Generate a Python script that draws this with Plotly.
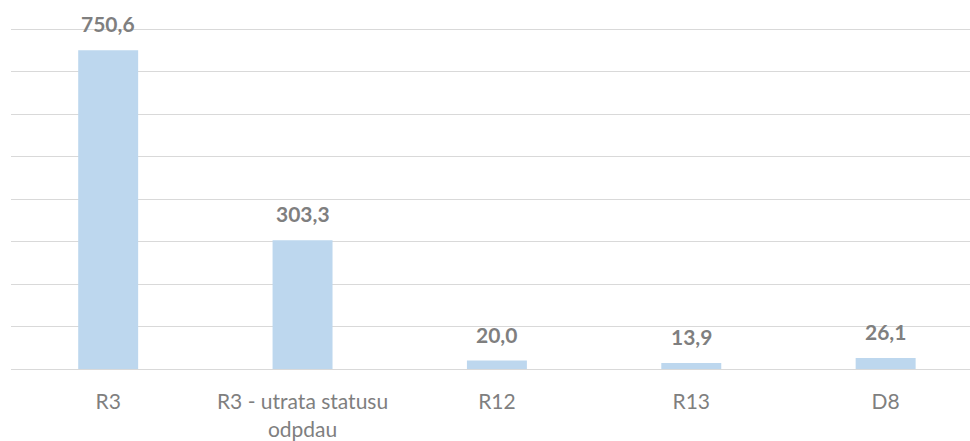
import plotly.graph_objects as go

categories = ["R3", "R3 - utrata statusu<br>odpdau", "R12", "R13", "D8"]
values = [750.6, 303.3, 20.0, 13.9, 26.1]

BAR_COLOR = "#BDD7EE"
TEXT_COLOR = "#7F7F7F"
FONT = "Lato, Open Sans, sans-serif"

fig = go.Figure(go.Bar(
    x=categories, y=values,
    marker_color=BAR_COLOR,
    marker_line_width=0,
    hoverinfo="x+y",
))

# popisky hodnot nad sloupci
for c, v in zip(categories, values):
    fig.add_annotation(
        x=c, y=v, text=f"<b>{v:.1f}</b>".replace(".", ","),
        showarrow=False, yanchor="bottom", yshift=12,
        font=dict(family=FONT, size=21, color=TEXT_COLOR),
    )

fig.update_layout(
    width=970, height=441,
    margin=dict(l=11, r=0, t=25, b=69),
    paper_bgcolor="white",
    plot_bgcolor="white",
    bargap=0.6915,
    showlegend=False,
    font=dict(family=FONT, size=21, color=TEXT_COLOR),
    xaxis=dict(
        range=[-0.5, 4.434],
        showgrid=False, showline=True, linecolor="#D9D9D9", linewidth=1,
        ticks="outside", ticklen=14, tickcolor="rgba(0,0,0,0)",
        tickfont=dict(family=FONT, size=21, color=TEXT_COLOR),
    ),
    yaxis=dict(
        range=[0, 810], dtick=100, showgrid=True, gridcolor="#D9D9D9",
        gridwidth=1, showticklabels=False, zeroline=False,
    ),
)

# graf je v referenci oříznutý vpravo, bez okraje stránky
fig.write_html(
    "out.html",
    config={"displayModeBar": False},
    post_script="document.body.style.margin='0';document.body.style.overflow='hidden';",
)
